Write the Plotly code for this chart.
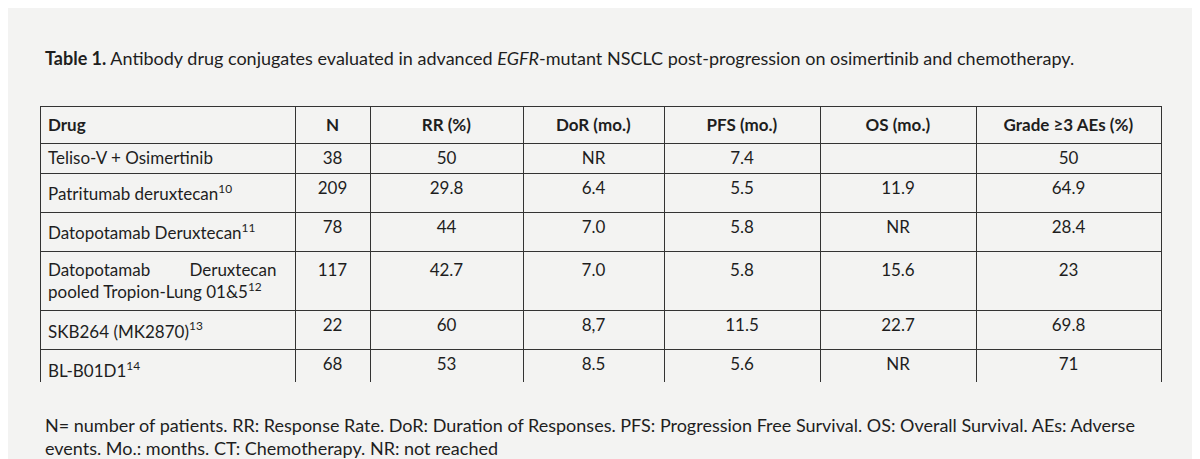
import plotly.graph_objects as go

headers = ["Drug", "N", "RR (%)", "DoR (mo.)", "PFS (mo.)", "OS (mo.)", "Grade ≥3 AEs (%)"]
drugs = [
    "Teliso-V + Osimertinib",
    "Patritumab deruxtecan<sup>10</sup>",
    "Datopotamab Deruxtecan<sup>11</sup>",
    "Datopotamab&nbsp;&nbsp;&nbsp;&nbsp;&nbsp;&nbsp;&nbsp;&nbsp;&nbsp;Deruxtecan<br>pooled Tropion-Lung 01&5<sup>12</sup>",
    "SKB264 (MK2870)<sup>13</sup>",
    "BL-B01D1<sup>14</sup>",
]
n_pts = ["38", "209", "78", "117", "22", "68"]
rr = ["50", "29.8", "44", "42.7", "60", "53"]
dor = ["NR", "6.4", "7.0", "7.0", "8,7", "8.5"]
pfs = ["7.4", "5.5", "5.8", "5.8", "11.5", "5.6"]
os_ = ["", "11.9", "NR", "15.6", "22.7", "NR"]
ae = ["50", "64.9", "28.4", "23", "69.8", "71"]

bg = "#f3f3f2"
ink = "#1e1e1e"
font = "Lato"

# pad numeric cells so they sit on the first line of the tall row
def top(col):
    return [v + "<br> " if i == 3 else v for i, v in enumerate(col)]

fig = go.Figure(go.Table(
    domain=dict(x=[32 / 1200, 1153 / 1200], y=[1 - 374 / 459, 1 - 98 / 459]),
    columnwidth=[255, 75, 153, 141, 156, 156, 185],
    header=dict(
        values=["<b>%s</b>" % h for h in headers],
        align=["left"] + ["center"] * 6,
        fill_color=bg,
        line_color="#333",
        font=dict(family=font, size=17, color=ink),
        height=32,
    ),
    cells=dict(
        values=[drugs, top(n_pts), top(rr), top(dor), top(pfs), top(os_), top(ae)],
        align=["left"] + ["center"] * 6,
        fill_color=bg,
        line_color="#333",
        font=dict(family=font, size=17, color=ink),
        height=30,
    ),
))

fig.add_annotation(
    x=35 / 1200, y=1 - 50 / 459, xref="paper", yref="paper", xanchor="left", yanchor="middle",
    showarrow=False, font=dict(family=font, size=18, color=ink),
    text="<b>Table 1.</b> Antibody drug conjugates evaluated in advanced <i>EGFR</i>-mutant NSCLC "
         "post-progression on osimertinib and chemotherapy.",
)
fig.add_annotation(
    x=35 / 1200, y=1 - 428 / 459, xref="paper", yref="paper", xanchor="left", yanchor="middle",
    showarrow=False, align="left", font=dict(family=font, size=18, color=ink),
    text="N= number of patients. RR: Response Rate. DoR: Duration of Responses. PFS: Progression Free Survival. "
         "OS: Overall Survival. AEs: Adverse<br>events. Mo.: months. CT: Chemotherapy. NR: not reached",
)

fig.update_layout(
    width=1200, height=459,
    margin=dict(l=0, r=0, t=0, b=0),
    paper_bgcolor=bg, plot_bgcolor=bg,
)

fig.write_html("out.html")
